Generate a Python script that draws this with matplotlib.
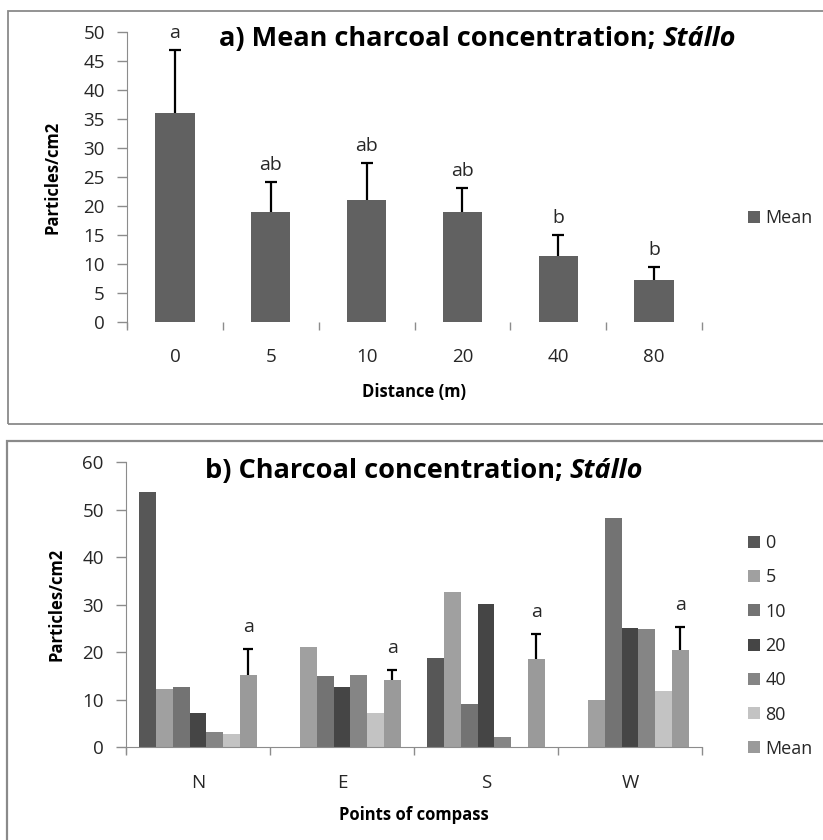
import numpy as np
import matplotlib
matplotlib.use("Agg")
import matplotlib.pyplot as plt
from matplotlib.patches import Rectangle

plt.rcParams['font.family'] = ['Open Sans', 'DejaVu Sans']

# a) mean charcoal concentration by distance from the hearth
distances = ["0", "5", "10", "20", "40", "80"]
mean_conc = [36.0, 18.9, 21.1, 18.9, 11.3, 7.2]
mean_err = [11.0, 5.3, 6.3, 4.2, 3.7, 2.25]
mean_letters = ["a", "ab", "ab", "ab", "b", "b"]

# b) concentration per compass direction and distance
directions = ["N", "E", "S", "W"]
series_names = ["0", "5", "10", "20", "40", "80", "Mean"]
conc_0 = [53.8, 0.0, 18.9, 0.0]
conc_5 = [12.2, 21.05, 32.7, 10.0]
conc_10 = [12.7, 15.0, 9.05, 48.3]
conc_20 = [7.15, 12.8, 30.1, 25.2]
conc_40 = [3.3, 15.2, 2.2, 25.0]
conc_80 = [2.7, 7.15, 0.0, 11.9]
conc_mean = [15.2, 14.2, 18.5, 20.5]
conc_mean_err = [5.6, 2.0, 5.4, 4.8]
dir_letters = ["a", "a", "a", "a"]

series_colors = ["#575757", "#a0a0a0", "#737373", "#454545", "#858585", "#c3c3c3", "#9a9a9a"]

W, H = 823, 840
AX_GRAY = "#8c8c8c"
TXT = "#262626"
TICK_FS = 13.5
LAB_FS = 12


def style_axis(ax, n, ymax, ystep, show_bottom, xpad):
    ax.set_xlim(-0.5, n - 0.5)
    ax.set_ylim(0, ymax)
    ax.set_yticks(np.arange(0, ymax + 0.1, ystep))
    for s in ["top", "right"]:
        ax.spines[s].set_visible(False)
    ax.spines["left"].set_color(AX_GRAY)
    ax.spines["bottom"].set_color(AX_GRAY)
    ax.spines["bottom"].set_visible(show_bottom)
    ax.spines["left"].set_bounds(-ymax * 0.02, ymax)
    ax.tick_params(axis="y", direction="out", length=7, width=1, color=AX_GRAY,
                   labelsize=TICK_FS, labelcolor=TXT, pad=9)
    # category separators as minor ticks, labels in the middle
    ax.set_xticks(np.arange(n))
    ax.set_xticks(np.arange(-0.5, n), minor=True)
    ax.tick_params(axis="x", which="major", length=0, labelsize=TICK_FS, labelcolor=TXT, pad=xpad)
    ax.tick_params(axis="x", which="minor", direction="out", length=6, width=1, color=AX_GRAY)
    ax.set_facecolor("none")


def title_parts(ax, x, y, prefix):
    t1 = ax.text(x, y, prefix, transform=ax.figure.transFigure, fontsize=19.5,
                 fontweight="bold", color="black", ha="left", va="bottom")
    ax.annotate("Stállo", xy=(1, 0), xycoords=t1, fontsize=19.5, fontweight="bold",
                fontstyle="italic", color="black", ha="left", va="bottom")


fig = plt.figure(figsize=(W / 100, H / 100), dpi=100)

# panel frames
fig.patches.append(Rectangle((8 / W, 1 - 424 / H), 830 / W, 413 / H, transform=fig.transFigure,
                             fill=False, edgecolor="#8a8a8a", lw=1.3))
fig.patches.append(Rectangle((7 / W, -0.05), 830 / W, 1 - 441 / H + 0.05, transform=fig.transFigure,
                             fill=False, edgecolor="#8a8a8a", lw=1.6))

# ---- panel a ----
ax1 = fig.add_axes([127 / W, 1 - 321.7 / H, 575 / W, 289.4 / H])
xa = np.arange(len(distances))
ax1.bar(xa, mean_conc, width=0.41, color="#616161", label="Mean", zorder=2)
# error bars sit behind the bars so only the upper half shows
ax1.errorbar(xa, mean_conc, yerr=mean_err, fmt="none",
             ecolor="black", elinewidth=1.6, capsize=4, capthick=1.6, zorder=1)
for xi, m, e, lab in zip(xa, mean_conc, mean_err, mean_letters):
    ax1.annotate(lab, xy=(xi, m + e), xytext=(0, 17), textcoords="offset pixels",
                 ha="center", va="center", fontsize=14, color=TXT)
style_axis(ax1, len(distances), 50, 5, show_bottom=False, xpad=19)
ax1.set_xticklabels(distances)
ax1.set_ylabel("Particles/cm2", fontsize=LAB_FS, fontweight="bold", color="black", labelpad=16)
ax1.set_xlabel("Distance (m)", fontsize=LAB_FS, fontweight="bold", color="black", labelpad=12)
title_parts(ax1, 219 / W, 1 - 52 / H, "a) Mean charcoal concentration; ")
ax1.legend(loc="center left", bbox_to_anchor=(732 / W, 1 - 218 / H), bbox_transform=fig.transFigure,
           frameon=False, fontsize=13, handlelength=0.65, handleheight=0.65, handletextpad=0.3,
           labelcolor=TXT)

# ---- panel b ----
ax2 = fig.add_axes([126 / W, 1 - 747.3 / H, 576 / W, 285 / H])
xb = np.arange(len(directions))
series = [conc_0, conc_5, conc_10, conc_20, conc_40, conc_80, conc_mean]
bw = 0.1167
for j, (name, vals, col) in enumerate(zip(series_names, series, series_colors)):
    pos = xb + (j - 3) * bw
    ax2.bar(pos, vals, width=bw, color=col, label=name, zorder=2)
    if name == "Mean":
        ax2.errorbar(pos, vals, yerr=conc_mean_err, fmt="none",
                     ecolor="black", elinewidth=1.6, capsize=3.5, capthick=1.6, zorder=1)
        for xi, m, e, lab in zip(pos, vals, conc_mean_err, dir_letters):
            ax2.annotate(lab, xy=(xi, m + e), xytext=(0, 22), textcoords="offset pixels",
                         ha="center", va="center", fontsize=14, color=TXT)
style_axis(ax2, len(directions), 60, 10, show_bottom=True, xpad=19)
ax2.set_xticklabels(directions)
ax2.set_ylabel("Particles/cm2", fontsize=LAB_FS, fontweight="bold", color="black", labelpad=12)
ax2.set_xlabel("Points of compass", fontsize=LAB_FS, fontweight="bold", color="black", labelpad=10)
title_parts(ax2, 205 / W, 1 - 484 / H, "b) Charcoal concentration; ")
ax2.legend(loc="center left", bbox_to_anchor=(732 / W, 1 - 646 / H), bbox_transform=fig.transFigure,
           frameon=False, fontsize=13, handlelength=0.65, handleheight=0.65, handletextpad=0.3,
           labelspacing=0.9, labelcolor=TXT)

fig.savefig("out.png", dpi=100)
